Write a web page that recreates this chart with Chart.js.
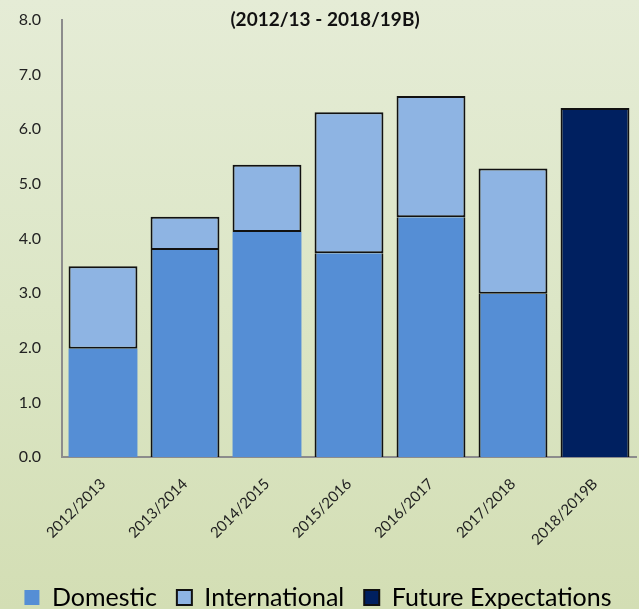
<!DOCTYPE html>
<html>
<head>
<meta charset="utf-8">
<script src="https://cdn.jsdelivr.net/npm/chart.js@4.4.0/dist/chart.umd.min.js"></script>
<style>
  html, body { margin: 0; padding: 0; }
  body {
    width: 639px; height: 609px; overflow: hidden;
    background: linear-gradient(to bottom, #e5ecd6 0%, #dce6c6 50%, #d3deb4 100%);
  }
  #wrap { position: relative; width: 639px; height: 609px; }
</style>
</head>
<body>
<div id="wrap"><canvas id="chart"></canvas></div>
<script>
// categories and series
const years = ['2012/2013', '2013/2014', '2014/2015', '2015/2016', '2016/2017', '2017/2018', '2018/2019B'];
const domestic = [1.98, 3.79, 4.12, 3.73, 4.39, 2.99, null];
const international = [1.51, 0.61, 1.23, 2.58, 2.22, 2.29, null];
const future = [null, null, null, null, null, null, 6.39];
const yTicks = [0, 1, 2, 3, 4, 5, 6, 7, 8];
const titleText = '(2012/13 - 2018/19B)';
// which domestic segments carry side borders in the original
const domesticOutlined = [false, true, false, true, true, true, false];

const FONT = 'Lato, "Open Sans", sans-serif';

// title sits over the plot top, so draw it without reserving space
const titlePlugin = {
  id: 'overTitle',
  afterDraw(chart) {
    const ctx = chart.ctx;
    ctx.save();
    ctx.font = 'bold 19px ' + FONT;
    ctx.fillStyle = '#111';
    ctx.textAlign = 'center';
    ctx.textBaseline = 'middle';
    ctx.fillText(titleText, 325, 20);
    ctx.restore();
  }
};

new Chart(document.getElementById('chart'), {
  type: 'bar',
  data: {
    labels: years,
    datasets: [
      {
        label: 'Domestic',
        data: domestic,
        backgroundColor: '#558ed5',
        borderColor: '#111',
        borderWidth: (ctx) => domesticOutlined[ctx.dataIndex]
          ? { left: 2, right: 2, top: 0, bottom: 0 }
          : 0,
        borderSkipped: false
      },
      {
        label: 'International',
        data: international,
        backgroundColor: '#8eb4e3',
        borderColor: '#111',
        borderWidth: 2,
        borderSkipped: false
      },
      {
        label: 'Future Expectations',
        data: future,
        backgroundColor: '#002060',
        borderColor: '#111',
        borderWidth: 2,
        borderSkipped: 'bottom'
      }
    ]
  },
  options: {
    responsive: true,
    maintainAspectRatio: false,
    animation: false,
    datasets: { bar: { categoryPercentage: 1, barPercentage: 0.84 } },
    // legend's own bottom padding hangs below the canvas edge
    layout: { padding: { left: 0, right: 3, top: 20, bottom: -11 } },
    plugins: {
      legend: {
        position: 'bottom',
        labels: {
          font: { family: FONT, size: 25 },
          color: '#1a1a1a',
          boxWidth: 15,
          boxHeight: 15,
          padding: 20,
          generateLabels(chart) {
            return chart.data.datasets.map((ds, i) => ({
              text: ds.label,
              fillStyle: ds.backgroundColor,
              strokeStyle: '#111',
              lineWidth: i === 0 ? 0 : 2,
              hidden: false,
              datasetIndex: i
            }));
          }
        }
      },
      title: { display: false },
      tooltip: { enabled: false }
    },
    scales: {
      x: {
        stacked: true,
        grid: { display: false, drawTicks: false },
        border: { color: '#8c8c8c', width: 2 },
        ticks: {
          font: { family: FONT, size: 15 },
          color: '#222',
          minRotation: 45,
          maxRotation: 45,
          padding: 18
        },
        afterFit(s) { s.height = 108; }
      },
      y: {
        stacked: true,
        min: 0,
        max: 8,
        afterBuildTicks(s) { s.ticks = yTicks.map(v => ({ value: v })); },
        grid: { display: false, drawOnChartArea: false, drawTicks: true, tickLength: 7, color: '#8c8c8c', tickWidth: 2 },
        border: { color: '#8c8c8c', width: 2 },
        ticks: {
          font: { family: FONT, size: 16 },
          color: '#222',
          padding: 14,
          callback: (v) => Number(v).toFixed(1)
        },
        afterFit(s) {
          s.width = 62;
          s.paddingTop = 0;
          s.paddingBottom = 0;
        }
      }
    }
  },
  plugins: [titlePlugin]
});
</script>
</body>
</html>
